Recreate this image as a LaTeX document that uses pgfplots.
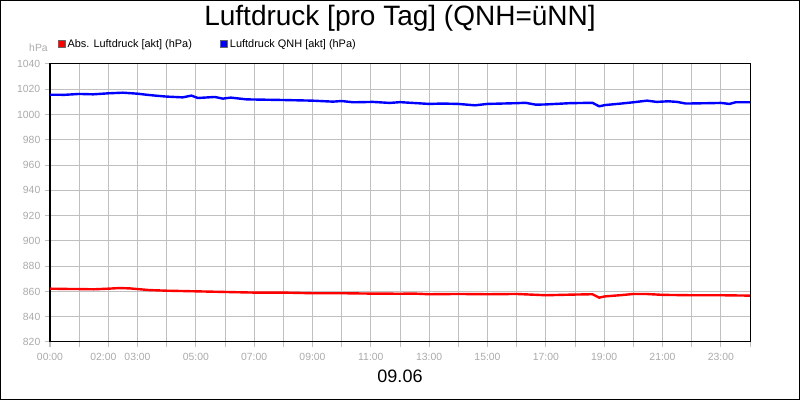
\documentclass[border=0pt]{standalone}
\usepackage{fontspec}
\setmainfont{Liberation Sans}
\usepackage{pgfplots}
\pgfplotsset{compat=1.18}

\definecolor{gridgray}{RGB}{192,192,192}
\definecolor{labgray}{RGB}{170,170,170}
\definecolor{qnhblue}{RGB}{0,0,255}
\definecolor{absred}{RGB}{255,0,0}

\begin{document}
\begin{tikzpicture}
\path[use as bounding box] (0,0) rectangle (600pt,300pt);
\draw[line width=0.75pt] (0.375pt,0.375pt) rectangle (599.625pt,299.625pt);

\node[anchor=base, font=\fontsize{21}{24}\selectfont] at (300pt,280.5pt) {Luftdruck [pro Tag] (QNH=üNN]};
\node[anchor=base, font=\fontsize{13.5}{16}\selectfont] at (300pt,12.75pt) {09.06};
\node[anchor=base east, font=\fontsize{7.8}{9}\selectfont, text=labgray, inner sep=0pt] at (36pt,261pt) {hPa};

\begin{axis}[
  at={(37.5pt,43.5pt)}, anchor=south west,
  scale only axis, width=525pt, height=208.5pt,
  xmin=0, xmax=24, ymin=820, ymax=1040,
  xtick={0,...,24},
  xticklabels={00:00,,\hspace*{-7.5pt}02:00,03:00,,05:00,,07:00,,09:00,,11:00,,13:00,,15:00,,17:00,,19:00,,21:00,,23:00,},
  ytick={820,840,...,1040},
  /pgf/number format/1000 sep={},
  /pgf/number format/assume math mode=true,
  tick label style={font=\fontsize{7.8}{9}\selectfont, text=labgray},
  xticklabel style={yshift=-1pt},
  tick align=outside, major tick length=3.75pt,
  tick style={gridgray, line width=0.75pt},
  xtick pos=bottom, ytick pos=left,
  grid=major, grid style={gridgray, line width=0.75pt},
  axis line style={black, line width=0.75pt},
  legend columns=2,
  legend style={at={(0,1)}, anchor=south west, xshift=5.5pt, yshift=9pt, draw=none, fill=none,
    font=\fontsize{8.2}{10}\selectfont, inner sep=0pt,
    /tikz/every even column/.append style={column sep=19pt}},
  legend cell align=left,
]
\addplot[absred, line width=1.8pt, line join=round,
  legend image code/.code={\filldraw[draw=black!60, fill=absred, line width=0.3pt] (0pt,-2.6pt) rectangle (5.2pt,2.6pt);}]
coordinates {
(0,862.2) (0.5,862.0) (1,861.9) (1.5,861.7) (2,862.2) (2.4,862.7) (2.75,862.4) (3,861.9)
(3.4,861.1) (4,860.6) (5,860.1) (6,859.6) (7,859.1) (8,859.1) (9,858.6) (10,858.6)
(11,858.3) (12,858.2) (12.5,858.3) (13,857.8) (14,858.0) (15,857.8) (16,858.0) (17,857.0)
(17.9,857.5) (18.6,857.8) (18.83,855.1) (19.03,856.1) (19.54,857.0) (20,858.0) (20.45,858.0)
(21,857.3) (22,857.0) (23,857.0) (24,856.7)
};
\addlegendentry{Abs. Luftdruck [akt] (hPa)}
\addplot[qnhblue, line width=1.8pt, line join=round,
  legend image code/.code={\filldraw[draw=black!60, fill=qnhblue, line width=0.3pt] (0pt,-2.6pt) rectangle (5.2pt,2.6pt);}]
coordinates {
(0,1015.7) (0.5,1015.6) (1,1016.3) (1.48,1016.0) (2,1016.8) (2.5,1017.3) (3,1016.5)
(3.3,1015.7) (3.6,1015.0) (4,1014.2) (4.55,1013.6) (4.85,1015.0) (5.07,1013.1) (5.65,1013.9)
(5.93,1012.6) (6.2,1013.4) (6.74,1012.0) (8,1011.5) (9,1011.0) (9.7,1010.2) (10,1010.7)
(10.4,1009.7) (11.07,1010.0) (11.65,1009.2) (12,1009.8) (13,1008.4) (13.45,1008.7)
(14,1008.4) (14.57,1007.3) (15,1008.4) (16,1009.0) (16.3,1009.3) (16.66,1007.8) (17,1008.0)
(17.83,1009.0) (18.6,1009.3) (18.83,1006.5) (19.03,1007.5) (19.54,1008.6) (20,1009.7)
(20.47,1011.0) (20.8,1010.0) (21.2,1010.5) (21.5,1010.0) (21.8,1008.7) (22.6,1009.0)
(23,1009.2) (23.3,1008.4) (23.5,1009.7) (24,1009.7)
};
\addlegendentry{Luftdruck QNH [akt] (hPa)}
\end{axis}
\end{tikzpicture}
\end{document}
